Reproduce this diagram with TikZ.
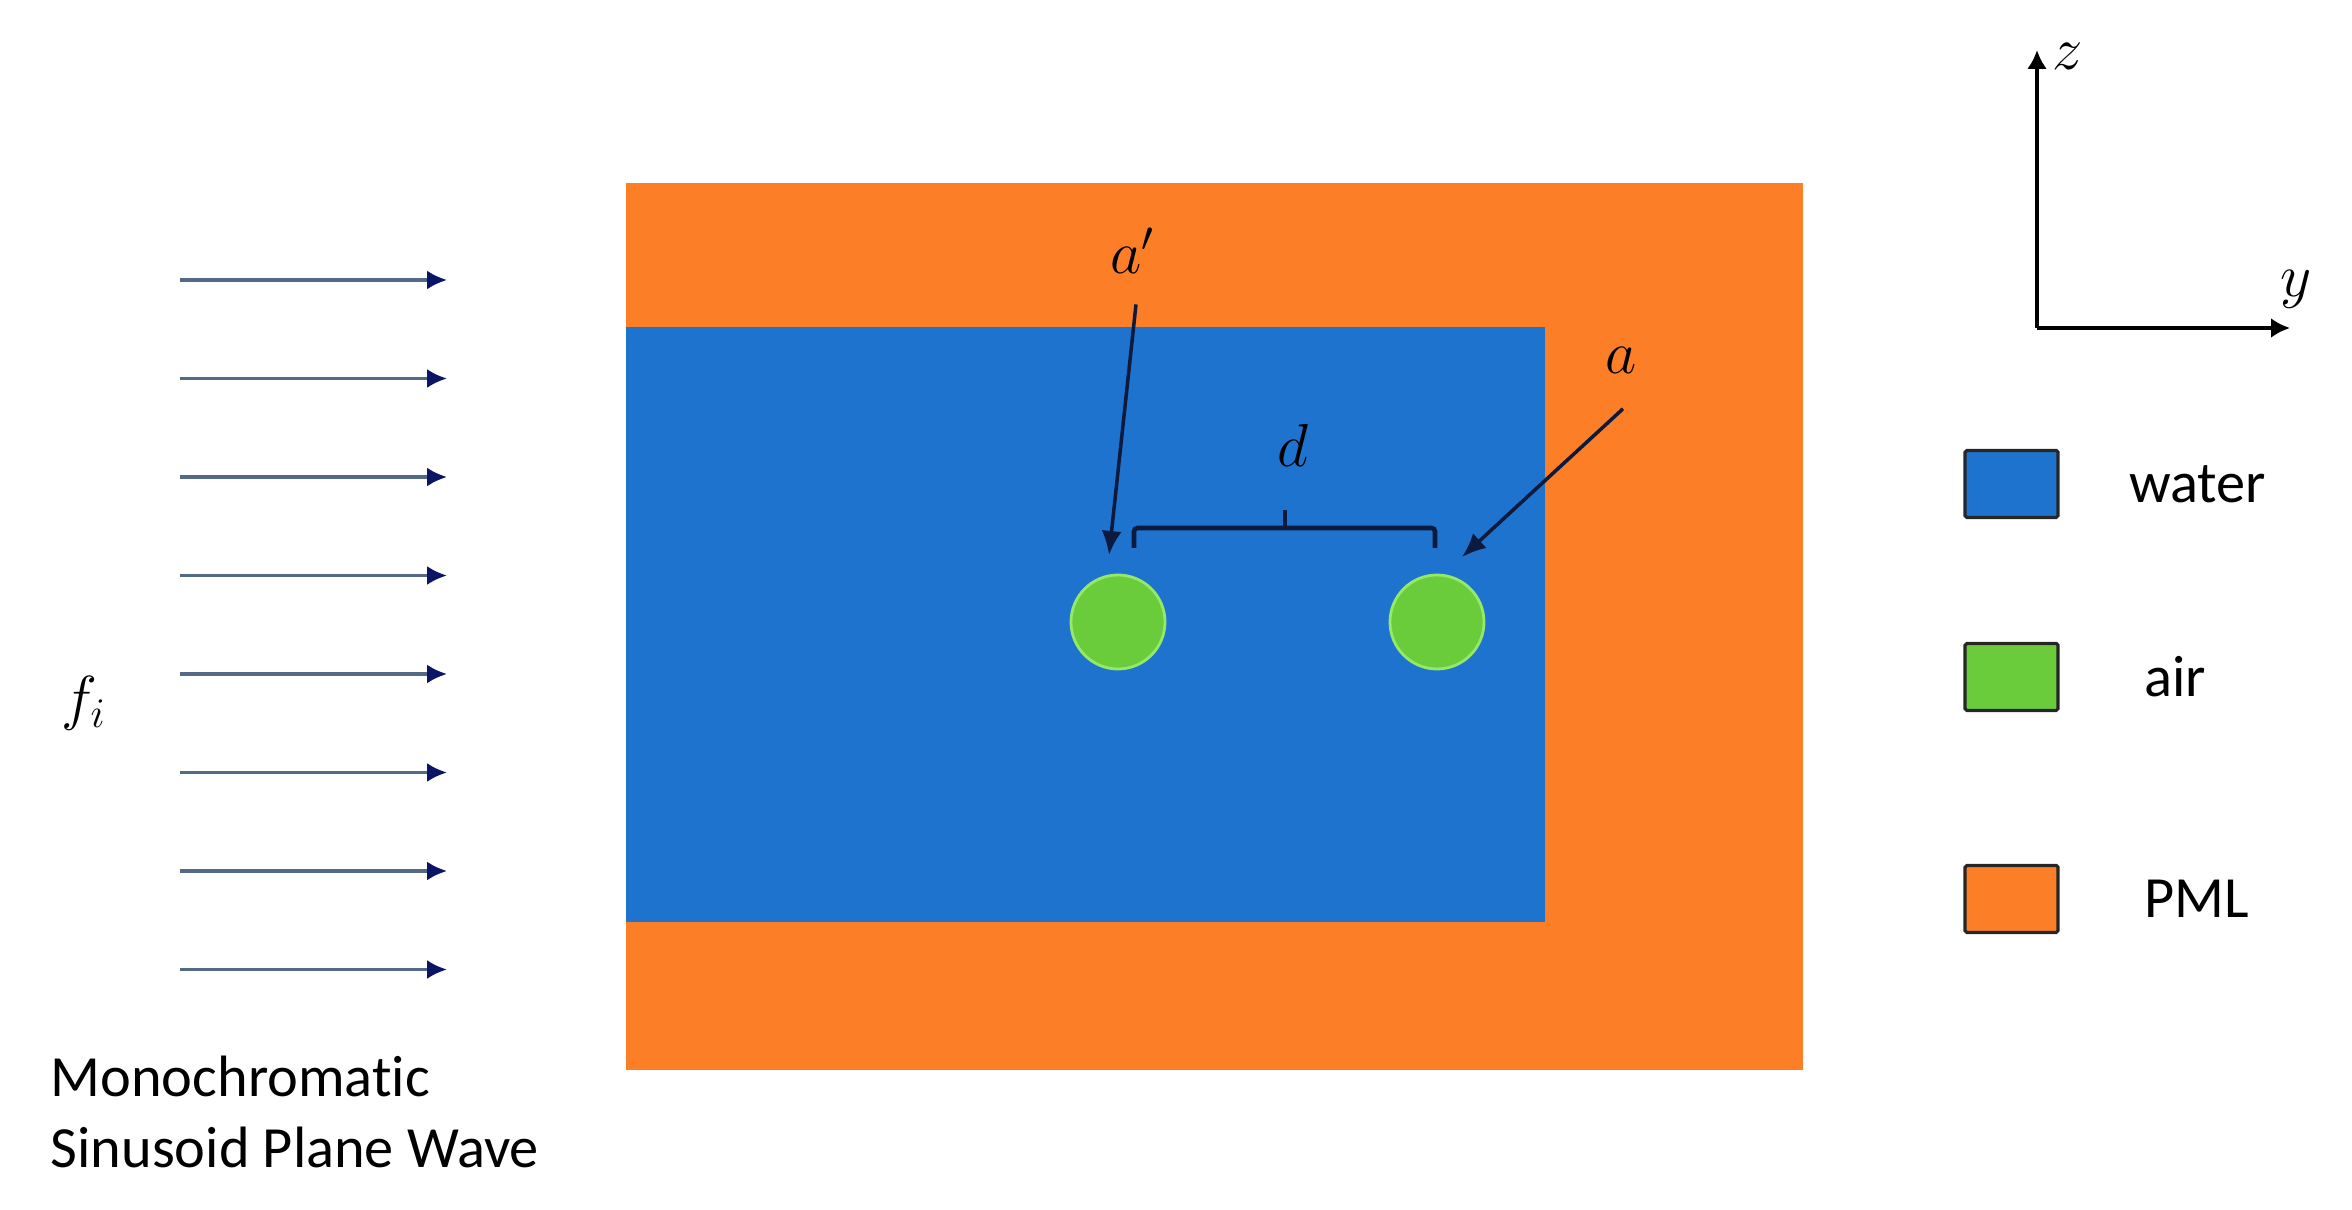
\documentclass[tikz,border=0pt]{standalone}
\usepackage{amsmath}
\usepackage{fontspec}
\setsansfont[Ligatures=NoCommon]{Carlito}
\usetikzlibrary{arrows.meta, positioning}

\definecolor{pmlorange}{RGB}{252,127,40}
\definecolor{waterblue}{RGB}{30,115,206}
\definecolor{airgreen}{RGB}{106,204,58}
\definecolor{airrim}{RGB}{150,232,105}
\definecolor{arrownavy}{RGB}{12,26,62}
\definecolor{wavegray}{RGB}{82,106,136}

\tikzset{
    bubble/.style={circle, fill=airgreen, draw=airrim, line width=0.8pt, minimum size=0.94cm, inner sep=0pt},
    legbox/.style={draw=black!85, line width=0.9pt, rounded corners=0.5pt, minimum width=0.93cm, minimum height=0.67cm, inner sep=0pt},
    legtext/.style={inner sep=0pt, font=\sffamily\fontsize{16.6}{20.2}\selectfont},
    mathlab/.style={inner sep=0pt, font=\fontsize{18.5}{20}\selectfont},
    pointer/.style={-{Latex[length=0.24cm, width=0.2cm]}, line width=1pt, arrownavy},
    wave/.style={-{Latex[length=0.2cm, width=0.19cm, color=arrownavy!80!blue]}, line width=0.9pt, wavegray},
    axis/.style={-{Latex[length=0.19cm, width=0.2cm]}, line width=1.1pt, black},
}

\begin{document}
\begin{tikzpicture}
    \useasboundingbox (0,0) rectangle (23.52,12.09);

    % Domain: PML frame around the water region
    \fill[pmlorange] (6.26,1.39) rectangle (18.03,10.26);
    \fill[waterblue] (6.26,2.87) rectangle (15.45,8.82);

    % Air bubbles
    \node[bubble] (bubL) at (11.18,5.87) {};
    \node[bubble] (bubR) at (14.37,5.87) {};

    % Spacing d between the bubbles
    \draw[arrownavy, line width=1.3pt, rounded corners=1pt] (11.34,6.61) -- (11.34,6.81) -- (14.35,6.81) -- (14.35,6.61);
    \draw[arrownavy, line width=1.3pt] (12.85,6.81) -- (12.85,6.99);
    \node[mathlab] (dlab) at (12.93,7.64) {$d$};

    % Radius labels
    \node[mathlab] (aplab) at (11.33,9.58) {$a'$};
    \node[mathlab] (alab) at (16.21,8.49) {$a$};
    \coordinate (aptip) at (11.09,6.54);
    \coordinate (atip) at (14.62,6.52);
    \draw[pointer] ([xshift=0.3mm, yshift=-3mm]aplab.south) -- (aptip);
    \draw[pointer] ([xshift=0.2mm, yshift=-3.5mm]alab.south) -- (atip);

    % Incident plane wave
    \foreach \i in {0,...,7} {
        \pgfmathsetmacro\y{9.29 - \i*0.985}
        \draw[wave] (1.80,\y) -- (4.47,\y);
    }
    \node[mathlab] (flab) at (0.84,5.06) {$f_i$};
    \node[legtext, anchor=base west, align=left] (srclab) at (0.50,0.42) {Monochromatic\\Sinusoid Plane Wave};

    % Axes
    \coordinate (O) at (20.37,8.81);
    \coordinate (ztip) at (20.37,11.59);
    \coordinate (ytip) at (22.90,8.81);
    \draw[axis] (O) -- (ztip);
    \draw[axis] (O) -- (ytip);
    \node[mathlab] (zlab) at (20.68,11.53) {$z$};
    \node[mathlab] (ylab) at (22.96,9.20) {$y$};

    % Legend
    \node[legbox, fill=waterblue] (legwater) at (20.115,7.25) {};
    \node[legbox, fill=airgreen] (legair) at (20.115,5.32) {};
    \node[legbox, fill=pmlorange] (legpml) at (20.115,3.10) {};
    \node[legtext, right=0.69cm of legwater] (txtwater) {water};
    \node[legtext, right=0.84cm of legair] (txtair) {air};
    \node[legtext, right=0.84cm of legpml] (txtpml) {PML};
\end{tikzpicture}
\end{document}
